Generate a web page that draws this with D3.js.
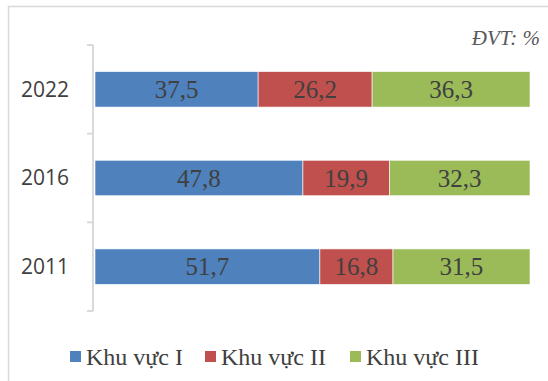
<!DOCTYPE html>
<meta charset="UTF-8">
<style>
body { margin: 0; background: #fff; }
.val { font-family: "Liberation Serif", "Times New Roman", serif; font-size: 25px; fill: #404040; }
.year { font-family: "Open Sans", sans-serif; font-size: 21px; fill: #404040; }
.leg { font-family: "Liberation Serif", "Times New Roman", serif; font-size: 24px; fill: #404040; }
</style>
<body>
<script src="https://d3js.org/d3.v7.min.js"></script>
<script>

var years = ["2022", "2016", "2011"];
var sectors = ["Khu vực I", "Khu vực II", "Khu vực III"];
var khuVuc1 = [37.5, 47.8, 51.7];
var khuVuc2 = [26.2, 19.9, 16.8];
var khuVuc3 = [36.3, 32.3, 31.5];
var colors = ["#4F81BD", "#C0504D", "#9BBB59"];

var W = 548, H = 381;

var svg = d3.select("body").append("svg")
    .attr("width", W)
    .attr("height", H);

// outer frame
svg.append("rect")
    .attr("x", 8.5).attr("y", 6.5)
    .attr("width", W + 10).attr("height", H + 10)
    .attr("fill", "none")
    .attr("stroke", "#D9D9D9")
    .attr("stroke-width", 1.5);

var x = d3.scaleLinear().domain([0, 100]).range([95, 530]);
var y = d3.scaleBand().domain(years).range([45, 311]).paddingInner(0.6).paddingOuter(0.3);
var band = d3.scaleBand().domain(years).range([45, 311]);

// build stacked rows
var rows = years.map(function(yr, i) {
  return { year: yr, "Khu vực I": khuVuc1[i], "Khu vực II": khuVuc2[i], "Khu vực III": khuVuc3[i] };
});
var series = d3.stack().keys(sectors)(rows);

// axis line with ticks at category boundaries
var axisG = svg.append("g").attr("transform", "translate(93,0)");
axisG.append("line")
    .attr("x1", 0).attr("x2", 0)
    .attr("y1", 45).attr("y2", 311)
    .attr("stroke", "#D9D9D9").attr("stroke-width", 2);
var bounds = years.map(function(d) { return band(d); }).concat([band.range()[1]]);
axisG.selectAll("line.tk").data(bounds).enter().append("line")
    .attr("class", "tk")
    .attr("x1", -6).attr("x2", 0)
    .attr("y1", function(d) { return d; }).attr("y2", function(d) { return d; })
    .attr("stroke", "#D9D9D9").attr("stroke-width", 2);

// year labels
svg.selectAll("text.year").data(years).enter().append("text")
    .attr("class", "year")
    .attr("x", 69)
    .attr("y", function(d) { return band(d) + band.bandwidth() / 2; })
    .attr("dy", "0.35em")
    .attr("text-anchor", "end")
    .text(function(d) { return d; });

// bars
var g = svg.selectAll("g.series").data(series).enter().append("g")
    .attr("fill", function(d, i) { return colors[i]; });

g.selectAll("rect").data(function(d) { return d; }).enter().append("rect")
    .attr("x", function(d) { return x(d[0]); })
    .attr("y", function(d) { return y(d.data.year); })
    .attr("width", function(d) { return x(d[1]) - x(d[0]); })
    .attr("height", y.bandwidth())
    .attr("stroke", "#fff")
    .attr("stroke-width", 0.6);

g.selectAll("text").data(function(d) { return d; }).enter().append("text")
    .attr("class", "val")
    .attr("x", function(d) { return (x(d[0]) + x(d[1])) / 2; })
    .attr("y", function(d) { return y(d.data.year) + y.bandwidth() / 2; })
    .attr("dy", "0.35em")
    .attr("text-anchor", "middle")
    .text(function(d) { return d3.format(".1f")(d[1] - d[0]).replace(".", ","); });

// unit note
svg.append("text")
    .attr("x", 540).attr("y", 45)
    .attr("text-anchor", "end")
    .style("font-family", "'Liberation Serif', serif")
    .style("font-style", "italic")
    .style("font-size", "21px")
    .style("fill", "#595959")
    .text("ĐVT: %");

// legend
var legX = [70, 205, 350];
var leg = svg.selectAll("g.leg").data(sectors).enter().append("g")
    .attr("transform", function(d, i) { return "translate(" + legX[i] + ",351)"; });
leg.append("rect")
    .attr("width", 11).attr("height", 11)
    .attr("fill", function(d, i) { return colors[i]; });
leg.append("text")
    .attr("class", "leg")
    .attr("x", 16).attr("y", 6)
    .attr("dy", "0.35em")
    .text(function(d) { return d; });

</script>
</body>
